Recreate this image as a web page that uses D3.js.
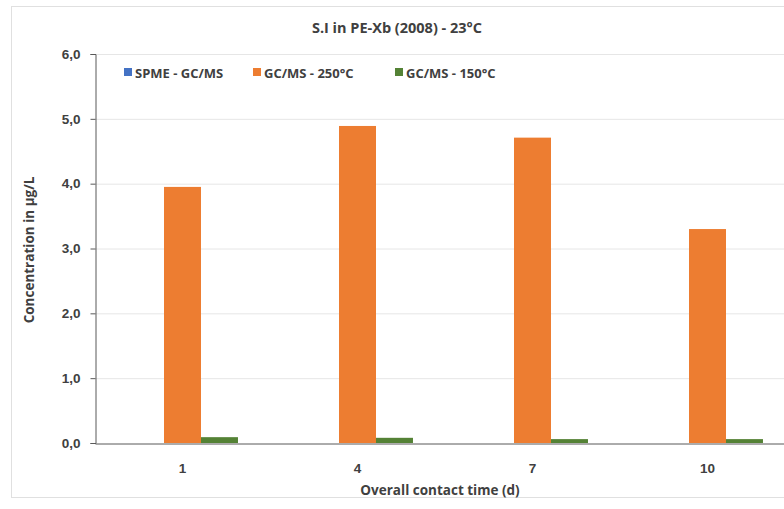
<!DOCTYPE html>
<html><head><meta charset="utf-8">
<script src="https://cdn.jsdelivr.net/npm/d3@7"></script>
<style>body{margin:0;background:#fff;}svg{display:block;font-family:"Open Sans",sans-serif;}</style>
</head><body><svg id="c" width="784" height="509"></svg>
<script>
const categories = ["1","4","7","10"];
const seriesNames = ["SPME - GC/MS","GC/MS - 250°C","GC/MS - 150°C"];
const spme = [0,0,0,0];
const gc250 = [3.95,4.89,4.71,3.30];
const gc150 = [0.09,0.08,0.06,0.06];
const colors = ["#4472C4","#ED7D31","#548235"];
const yTicks = [0,1,2,3,4,5,6];
const title = "S.I in PE-Xb (2008) - 23°C";
const xTitle = "Overall contact time (d)";
const yTitle = "Concentration in µg/L";

const series = [spme, gc250, gc150];
const svg = d3.select("#c");
svg.append("rect").attr("x",11.5).attr("y",6.5).attr("width",790).attr("height",491)
  .attr("fill","#fff").attr("stroke","#e0e0e0");
const m = {l:95, r:795, t:54, b:443};
const x = d3.scaleBand().domain(categories).range([m.l,m.r]).paddingInner(0.366).paddingOuter(0.183);
const xs = d3.scaleBand().domain(d3.range(3)).range([0,x.bandwidth()]);
const y = d3.scaleLinear().domain([0,6]).range([m.b,m.t]);
const fmt = d => d.toFixed(1).replace(".",",");

// gridlines
svg.append("g").selectAll("line").data(yTicks.slice(1)).join("line")
  .attr("x1",m.l).attr("x2",m.r).attr("y1",d=>y(d)+0.5).attr("y2",d=>y(d)+0.5)
  .attr("stroke","#e6e6e6").attr("stroke-width",1);

// bars
series.forEach((s,i)=>{
  svg.append("g").selectAll("rect").data(s).join("rect")
    .attr("x",(d,j)=>x(categories[j])+xs(i))
    .attr("width",xs.bandwidth())
    .attr("y",d=>y(d)).attr("height",d=>y(0)-y(d))
    .attr("fill",colors[i]);
});

// y axis
const ya = svg.append("g").attr("transform",`translate(${m.l+0.5},0)`)
  .call(d3.axisLeft(y).tickValues(yTicks).tickFormat(fmt).tickSize(5).tickPadding(10));
ya.select(".domain").attr("stroke","#595959");
ya.selectAll(".tick line").attr("stroke","#595959");
ya.selectAll("text").attr("font-size",13.5).attr("font-weight","bold").attr("fill","#404040");

// x axis
const xa = svg.append("g").attr("transform",`translate(0,${m.b+0.5})`)
  .call(d3.axisBottom(x).tickSize(0).tickPadding(20));
xa.select(".domain").attr("stroke","#595959");
xa.selectAll("text").attr("font-size",13.5).attr("font-weight","bold").attr("fill","#404040");

// titles
svg.append("text").attr("x",397).attr("y",33).attr("text-anchor","middle")
  .attr("font-size",14.5).attr("font-weight","bold").attr("fill","#404040").text(title);
svg.append("text").attr("x",440).attr("y",495).attr("text-anchor","middle")
  .attr("font-size",13.5).attr("font-weight","bold").attr("fill","#404040").text(xTitle);
svg.append("text").attr("transform","translate(34,250) rotate(-90)").attr("text-anchor","middle")
  .attr("font-size",13.5).attr("font-weight","bold").attr("fill","#404040").text(yTitle);

// legend
const legX = [124,253,395];
seriesNames.forEach((n,i)=>{
  svg.append("rect").attr("x",legX[i]).attr("y",68).attr("width",8).attr("height",8).attr("fill",colors[i]);
  svg.append("text").attr("x",legX[i]+11).attr("y",77.5).attr("font-size",13).attr("font-weight","bold")
    .attr("fill","#404040").text(n);
});
</script></body></html>
